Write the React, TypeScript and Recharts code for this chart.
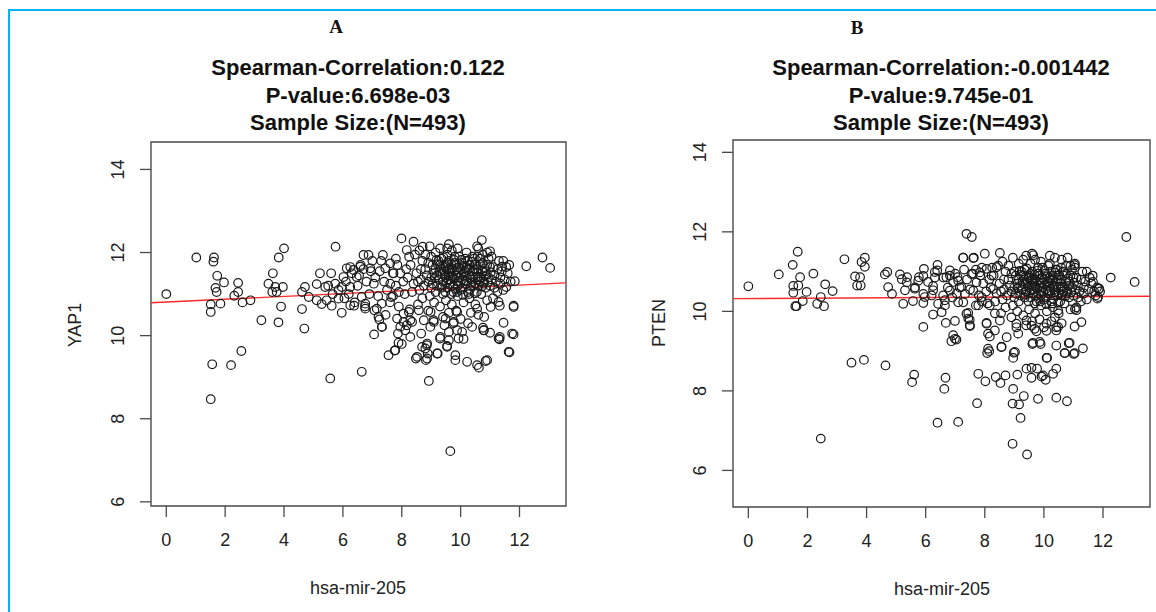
import { ScatterChart, Scatter, XAxis, YAxis, ReferenceArea, ReferenceLine } from 'recharts';

// hsa-mir-205 (x) vs YAP1 (y), panel A
const yap1Points: number[][] = [
  [0, 11.0], [1.02, 11.88], [1.62, 11.88], [1.6, 11.78], [1.73, 11.44], [1.96, 11.28], [1.67, 11.15], [1.71, 11.05],
  [1.51, 10.75], [1.51, 10.57], [1.84, 10.77], [2.44, 11.27], [2.44, 11.05], [2.31, 10.96], [2.59, 10.8], [2.86, 10.85],
  [3.23, 10.37], [2.55, 9.63], [1.56, 9.31], [2.2, 9.29], [1.51, 8.47], [3.47, 11.25], [3.62, 11.5], [4.0, 12.1],
  [3.82, 11.88], [3.7, 11.17], [3.96, 11.17], [3.75, 11.05], [3.6, 11.05], [3.9, 10.7], [3.81, 10.32], [4.61, 10.64],
  [4.69, 10.17], [4.61, 11.05], [4.71, 11.17], [4.84, 10.93], [5.11, 11.24], [5.22, 11.5], [5.11, 10.85], [5.4, 11.17],
  [5.28, 10.76], [5.6, 11.5], [5.75, 12.14], [5.62, 10.72], [5.74, 11.25], [5.85, 10.89], [5.96, 10.55], [5.96, 11.17],
  [6.02, 11.41], [6.13, 11.62], [6.25, 11.17], [6.25, 10.73], [6.38, 10.72], [6.36, 11.58], [6.47, 11.41], [6.59, 11.66],
  [6.64, 10.93], [6.7, 11.94], [6.87, 11.94], [6.76, 10.77], [6.76, 10.65], [6.93, 11.62], [7.05, 11.25], [7.07, 10.61],
  [7.21, 10.45], [7.06, 10.03], [7.32, 10.21], [7.24, 10.39], [7.36, 11.94], [7.44, 11.62], [7.61, 11.74], [7.32, 10.77],
  [7.61, 11.25], [7.72, 11.5], [7.64, 10.93], [7.99, 12.34], [8.17, 12.06], [8.4, 12.26], [8.71, 12.14], [5.57, 8.97],
  [6.64, 9.13], [8.92, 8.91], [9.65, 7.22], [10.62, 9.23], [10.85, 9.39], [12.23, 11.67], [12.78, 11.88], [13.04, 11.63],
  [11.84, 11.31], [11.55, 11.17], [11.8, 10.72], [11.33, 10.72], [11.66, 9.6], [11.8, 10.03], [11.46, 10.31], [11.32, 9.91],
  [11.33, 9.97], [11.0, 10.07], [10.76, 10.19], [10.78, 10.13], [10.22, 9.37], [9.82, 9.53], [9.82, 9.41], [9.93, 9.93],
  [10.1, 9.92], [9.88, 10.13], [9.6, 10.09], [9.54, 9.75], [9.6, 9.89], [9.22, 9.57], [8.97, 10.21], [9.08, 10.37],
  [9.3, 9.93], [8.48, 9.45], [8.66, 10.05], [8.8, 9.69], [8.82, 9.41], [8.85, 9.77], [8.88, 9.57], [7.55, 9.53],
  [7.76, 9.64], [7.89, 9.83], [8.0, 9.8], [7.87, 10.05], [7.95, 10.21], [8.06, 10.33], [8.17, 10.25], [8.27, 10.63],
  [8.06, 10.53], [8.29, 10.37], [10.72, 12.3], [10.56, 12.15], [11.0, 12.03], [9.6, 12.2], [9.54, 12.1], [11.41, 11.66],
  [7.33, 10.21], [7.78, 9.65], [8.12, 10.13], [8.29, 9.97], [8.35, 10.33], [7.84, 10.41], [8.52, 9.49], [8.69, 9.73],
  [8.86, 9.81], [8.86, 9.45], [9.2, 9.57], [9.31, 9.97], [9.54, 9.73], [10.56, 9.29], [10.9, 9.41], [11.29, 9.93],
  [11.75, 10.05], [11.63, 9.61], [10.79, 10.13], [10.39, 10.21], [10.05, 10.09], [9.77, 10.33], [9.49, 10.41], [9.09, 10.33],
  [8.75, 10.37], [8.58, 10.61], [8.24, 10.57], [8.98, 10.57], [9.88, 10.57], [10.56, 10.65], [11.02, 10.69], [11.29, 10.81],
  [11.8, 10.69],
  [6.1, 11.3], [6.3, 11.5], [6.5, 11.2], [6.7, 11.6], [6.9, 11.0], [7.1, 11.4], [7.3, 11.8], [7.5, 11.1],
  [7.7, 11.5], [6.2, 11.0], [6.4, 10.8], [6.6, 11.7], [6.8, 11.3], [7.0, 11.8], [7.2, 10.95], [7.4, 11.3],
  [7.6, 10.8], [7.8, 11.85], [6.05, 10.9], [6.75, 10.7], [7.15, 10.65], [7.45, 10.5], [7.9, 10.7], [7.25, 11.55],
  [6.95, 11.55], [6.55, 11.45], [6.25, 11.65], [5.85, 11.1], [5.65, 11.0], [5.5, 11.2], [5.45, 10.85],
  [9.1, 11.5], [9.3, 11.7], [9.5, 11.4], [9.7, 11.6], [9.9, 11.3], [10.1, 11.5], [10.3, 11.7], [10.5, 11.4],
  [9.2, 11.2], [9.4, 11.0], [9.6, 11.8], [9.8, 11.9], [10.0, 11.1], [10.2, 11.3], [10.4, 11.9], [10.6, 11.6],
  [10.8, 11.3], [9.0, 11.9], [9.25, 11.35], [9.45, 11.55], [9.65, 11.25], [9.85, 11.45], [10.05, 11.75], [10.25, 11.05],
  [10.45, 11.2], [10.65, 11.85], [10.85, 11.55], [11.0, 11.2], [9.15, 11.05], [9.35, 11.85], [9.55, 11.15], [9.75, 11.05],
  [9.95, 11.65], [10.15, 11.85], [10.35, 11.35], [10.55, 11.05], [10.75, 11.75], [10.95, 11.4], [11.1, 11.65], [11.2, 11.3],
  [8.8, 11.6], [8.9, 11.3], [8.7, 11.8], [8.6, 11.1], [8.5, 11.5], [8.4, 11.25], [8.3, 11.7], [8.2, 11.4],
  [8.1, 11.0], [8.95, 10.95], [9.05, 11.7], [9.55, 11.95], [9.7, 12.05], [9.9, 12.1], [10.2, 12.0], [10.6, 12.1],
  [10.9, 12.0], [11.05, 11.9], [11.3, 11.8], [11.4, 11.55], [11.5, 11.35], [11.45, 11.1], [11.25, 11.05], [11.1, 10.9],
  [10.9, 10.85], [10.7, 11.0], [10.5, 10.75], [10.3, 10.9], [10.1, 10.8], [9.9, 10.95], [9.7, 10.75], [9.5, 10.85],
  [9.3, 10.7], [9.1, 10.8], [8.9, 10.6], [8.7, 10.9], [8.55, 10.75], [9.6, 10.55], [9.85, 10.6], [10.0, 10.4],
  [9.4, 10.45], [9.75, 10.3], [9.45, 10.25], [10.35, 10.55], [10.6, 10.5], [10.8, 10.45], [10.25, 10.3], [9.8, 11.75],
  [9.6, 11.45], [10.0, 11.6], [10.4, 11.55], [10.7, 11.4], [9.2, 11.45], [9.4, 11.3], [9.35, 11.6], [9.65, 11.35],
  [9.9, 11.2], [10.15, 11.25], [10.5, 11.25], [10.9, 11.7], [11.15, 11.45], [11.35, 11.25], [11.6, 11.5], [11.65, 11.7],
  [11.55, 11.65], [11.7, 11.3], [8.45, 11.95], [8.6, 12.05], [8.8, 11.95], [8.25, 11.9], [8.15, 11.6], [8.05, 11.3],
  [7.95, 11.5], [7.85, 11.7], [7.8, 11.2], [7.7, 10.95], [7.9, 11.05], [8.35, 11.05], [8.65, 11.35], [9.0, 11.4],
  [9.5, 11.65], [10.3, 11.45], [10.6, 11.2], [10.2, 11.65], [9.95, 11.9], [10.45, 11.85], [10.75, 11.95], [9.15, 12.0],
  [9.3, 12.1], [8.95, 12.15], [10.05, 11.35], [9.8, 11.55],
  [9.05, 11.25], [9.15, 11.6], [9.25, 11.8], [9.35, 11.15], [9.45, 11.45], [9.55, 11.75], [9.65, 11.5], [9.75, 11.2],
  [9.85, 11.7], [9.95, 11.4], [10.05, 11.15], [10.15, 11.55], [10.25, 11.8], [10.35, 11.2], [10.45, 11.6], [10.55, 11.5],
  [10.65, 11.3], [10.75, 11.55], [10.85, 11.15], [10.95, 11.85], [9.12, 11.38], [9.22, 11.72], [9.32, 11.48], [9.42, 11.88],
  [9.52, 11.28], [9.62, 11.62], [9.72, 11.42], [9.82, 11.12], [9.92, 11.52], [10.02, 11.82], [10.12, 11.32], [10.22, 11.58],
  [10.32, 11.12], [10.42, 11.42], [10.52, 11.72], [10.62, 11.42], [10.72, 11.18], [10.82, 11.62], [10.92, 11.28], [11.02, 11.52],
  [9.48, 11.05], [9.68, 11.0], [9.88, 11.05], [10.08, 10.98], [10.28, 11.0], [10.48, 11.02], [9.38, 11.22], [9.58, 11.33],
  [9.78, 11.37], [9.98, 11.27], [10.18, 11.42], [10.38, 11.28], [10.58, 11.35], [10.78, 11.25], [9.28, 11.55], [9.48, 11.7],
  [9.68, 11.72], [9.88, 11.6], [10.08, 11.68], [10.28, 11.6], [10.48, 11.7], [10.68, 11.7], [9.18, 11.82], [9.58, 11.58],
  [9.78, 11.82], [10.38, 11.78], [10.58, 11.9], [8.85, 11.45], [8.75, 11.2], [8.65, 11.6], [8.55, 11.3], [11.15, 11.15],
  [11.25, 11.6], [11.35, 11.4], [11.45, 11.8], [11.05, 11.35], [8.9, 11.75], [9.0, 11.15], [10.85, 11.45], [11.0, 11.65],
];

// hsa-mir-205 (x) vs PTEN (y), panel B
const ptenPoints: number[][] = [
  [0, 10.63], [1.03, 10.93], [1.67, 11.5], [1.5, 11.17], [1.75, 10.86], [1.52, 10.64], [1.69, 10.65], [1.52, 10.47],
  [1.97, 10.49], [1.84, 10.26], [1.59, 10.13], [1.63, 10.13], [2.2, 10.95], [2.33, 10.19], [2.56, 10.13], [2.45, 10.36],
  [2.6, 10.68], [2.85, 10.51], [3.25, 11.31], [3.61, 10.88], [3.68, 10.65], [3.8, 10.65], [3.83, 11.24], [3.94, 11.35],
  [3.94, 11.12], [3.78, 10.86], [4.62, 10.93], [4.7, 10.99], [4.73, 10.61], [4.86, 10.44], [5.13, 10.93], [5.37, 10.86],
  [5.3, 10.53], [5.24, 10.19], [5.57, 10.26], [5.63, 10.57], [5.77, 10.86], [5.94, 11.07], [5.92, 10.44], [5.92, 10.21],
  [6.08, 10.74], [6.25, 10.53], [6.31, 10.99], [6.4, 11.17], [6.42, 10.19], [6.25, 9.92], [6.54, 9.98], [5.92, 9.61],
  [6.65, 10.28], [6.7, 10.86], [6.82, 11.03], [6.93, 10.74], [7.08, 10.86], [6.99, 9.76], [6.68, 9.71], [6.93, 9.4],
  [6.87, 9.25], [7.04, 9.29], [7.1, 10.23], [7.21, 10.61], [7.27, 11.35], [7.61, 11.34], [7.38, 11.95], [7.56, 11.87],
  [7.44, 9.96], [7.49, 9.79], [7.49, 9.65], [8.0, 11.45], [8.51, 11.47], [8.06, 9.71], [8.11, 9.44], [8.17, 9.37],
  [8.11, 9.06], [8.15, 9.0], [8.56, 9.1], [9.02, 8.98], [8.96, 8.83], [9.07, 9.69], [9.13, 9.44], [9.63, 9.21],
  [9.86, 9.23], [10.09, 8.83], [10.42, 9.14], [10.71, 8.95], [10.87, 9.21], [11.04, 8.95], [11.32, 9.07], [11.04, 9.62],
  [11.27, 9.73], [11.1, 10.03], [11.04, 11.16], [12.26, 10.85], [12.79, 11.87], [13.07, 10.74], [11.87, 10.57], [11.83, 10.36],
  [10.37, 11.35], [10.48, 9.61], [10.42, 9.52], [3.49, 8.71], [3.91, 8.78], [4.64, 8.64], [5.61, 8.41], [6.67, 8.33],
  [7.78, 8.43], [8.37, 8.35], [8.7, 8.39], [9.1, 8.41], [9.41, 8.56], [9.58, 8.58], [9.77, 8.56], [9.97, 8.39],
  [10.31, 8.43], [10.42, 8.56], [2.45, 6.8], [6.4, 7.2], [7.1, 7.22], [8.94, 6.67], [9.43, 6.4], [7.74, 7.69],
  [8.94, 7.68], [9.16, 7.66], [9.21, 7.32], [9.8, 7.8], [10.42, 7.83], [10.78, 7.74], [9.32, 7.87], [8.96, 8.05],
  [5.54, 8.22], [6.63, 8.05], [8.02, 8.24], [8.53, 8.2], [9.58, 8.33], [9.92, 8.36], [10.06, 8.28], [8.08, 8.95],
  [8.57, 9.11], [8.98, 8.96], [10.11, 8.83], [9.61, 9.18], [9.89, 9.18], [10.7, 8.95], [11.01, 8.93], [10.84, 9.2],
  [6.99, 9.31], [7.38, 9.94], [7.44, 9.82], [7.5, 9.63], [8.06, 9.69], [8.51, 9.77], [8.34, 9.52], [8.74, 9.35],
  [9.07, 9.6], [9.41, 9.77], [9.58, 9.64], [10.09, 9.69], [9.69, 9.56], [10.37, 9.85], [10.48, 10.02], [11.05, 10.06],
  [10.09, 9.51], [10.42, 9.6], [8.34, 9.95], [8.17, 10.15],
  [5.19, 10.81], [5.36, 10.73], [5.64, 10.6], [5.75, 10.77], [5.92, 10.89], [5.97, 10.36], [6.25, 10.64], [6.31, 10.85],
  [6.39, 11.03], [6.2, 10.4], [6.59, 10.4], [6.65, 10.15], [6.82, 10.9], [7.1, 10.77], [6.82, 10.52], [7.33, 10.44],
  [7.27, 10.23], [7.55, 10.94], [7.72, 10.73], [7.83, 10.98], [7.61, 10.52], [7.89, 10.36], [7.78, 10.15], [8.06, 11.07],
  [8.23, 10.9], [8.4, 11.11], [8.28, 10.56], [7.27, 11.35], [7.63, 11.35], [9.64, 11.41], [11.05, 11.2], [11.66, 10.74],
  [11.86, 10.57], [11.81, 10.32],
  [7.0, 10.95], [7.15, 10.6], [7.4, 10.8], [7.6, 10.95], [7.5, 10.55], [6.75, 10.6], [6.6, 10.85], [7.3, 11.05],
  [7.05, 10.45], [7.7, 11.05], [7.9, 11.1], [6.9, 10.35],
  [9.1, 10.7], [9.3, 10.9], [9.5, 10.6], [9.7, 10.8], [9.9, 10.5], [10.1, 10.7], [10.3, 10.9], [10.5, 10.6],
  [9.2, 10.4], [9.4, 10.5], [9.6, 11.0], [9.8, 11.1], [10.0, 10.3], [10.2, 10.5], [10.4, 11.05], [10.6, 10.8],
  [10.8, 10.5], [9.0, 11.0], [9.25, 10.55], [9.45, 10.75], [9.65, 10.45], [9.85, 10.65], [10.05, 10.95], [10.25, 10.25],
  [10.45, 10.4], [10.65, 11.0], [10.85, 10.75], [11.0, 10.4], [9.15, 10.25], [9.35, 11.05], [9.55, 10.35], [9.75, 10.25],
  [9.95, 10.85], [10.15, 11.15], [10.35, 10.55], [10.55, 10.25], [10.75, 10.95], [10.95, 10.6], [11.1, 10.85], [11.2, 10.5],
  [8.8, 10.8], [8.9, 10.5], [8.7, 11.0], [8.6, 10.3], [8.5, 10.7], [8.4, 10.45], [8.3, 10.9], [8.2, 10.6],
  [8.1, 10.2], [8.95, 10.15], [9.05, 10.9], [9.55, 11.2], [9.7, 11.3], [9.9, 11.25], [10.2, 11.2], [10.6, 11.3],
  [10.9, 11.15], [11.05, 11.1], [11.3, 11.0], [11.4, 10.75], [11.5, 10.55], [11.45, 10.3], [11.25, 10.25], [11.1, 10.1],
  [10.9, 10.05], [10.7, 10.2], [10.5, 9.95], [10.3, 10.1], [10.1, 10.0], [9.9, 10.15], [9.7, 9.95], [9.5, 10.05],
  [9.3, 9.9], [9.1, 10.0], [8.9, 9.85], [8.7, 10.1], [8.55, 9.95], [9.6, 9.75], [9.85, 9.8], [10.0, 9.6],
  [9.4, 9.65], [9.75, 9.5], [10.25, 9.75], [10.6, 9.7], [9.8, 10.95], [9.6, 10.65], [10.0, 10.8], [10.4, 10.75],
  [10.7, 10.6], [9.2, 10.65], [9.4, 10.5], [9.35, 10.8], [9.65, 10.55], [9.9, 10.4], [10.15, 10.45], [10.5, 10.45],
  [10.9, 10.9], [11.15, 10.65], [11.35, 10.45], [11.6, 10.7], [11.65, 10.9], [11.55, 10.85], [11.7, 10.5], [8.45, 11.15],
  [8.6, 11.25], [8.8, 11.15], [8.25, 11.1], [8.15, 10.8], [8.05, 10.5], [7.95, 10.7], [7.85, 10.9], [7.8, 10.4],
  [7.7, 10.15], [7.9, 10.25], [8.35, 10.25], [8.65, 10.55], [9.0, 10.6], [9.5, 10.85], [10.3, 10.65], [10.6, 10.4],
  [10.2, 10.85], [9.95, 11.1], [10.45, 11.05], [10.75, 11.15], [9.15, 11.2], [9.3, 11.3], [8.95, 11.35], [10.05, 10.55],
  [9.8, 10.75], [11.8, 10.6], [11.75, 10.4], [11.9, 10.5], [10.8, 11.35], [10.2, 11.4], [9.4, 11.4], [9.6, 11.45],
  [9.05, 10.45], [9.15, 10.8], [9.25, 11.0], [9.35, 10.35], [9.45, 10.65], [9.55, 10.95], [9.65, 10.7], [9.75, 10.4],
  [9.85, 10.9], [9.95, 10.6], [10.05, 10.35], [10.15, 10.75], [10.25, 11.0], [10.35, 10.4], [10.45, 10.8], [10.55, 10.7],
  [10.65, 10.5], [10.75, 10.75], [10.85, 10.35], [10.95, 11.05], [9.12, 10.58], [9.22, 10.92], [9.32, 10.68], [9.42, 11.08],
  [9.52, 10.48], [9.62, 10.82], [9.72, 10.62], [9.82, 10.32], [9.92, 10.72], [10.02, 11.02], [10.12, 10.52], [10.22, 10.78],
  [10.32, 10.32], [10.42, 10.62], [10.52, 10.92], [10.62, 10.62], [10.72, 10.38], [10.82, 10.82], [10.92, 10.48], [11.02, 10.72],
  [9.48, 10.25], [9.68, 10.2], [9.88, 10.25], [10.08, 10.18], [10.28, 10.2], [10.48, 10.22], [9.38, 10.42], [9.58, 10.53],
  [9.78, 10.57], [9.98, 10.47], [10.18, 10.62], [10.38, 10.48], [10.58, 10.55], [10.78, 10.45], [9.28, 10.75], [9.48, 10.9],
  [9.68, 10.92], [9.88, 10.8], [10.08, 10.88], [10.28, 10.8], [10.48, 10.9], [10.68, 10.9], [9.18, 11.02], [9.58, 10.78],
  [9.78, 11.02], [10.38, 10.98], [10.58, 11.1], [8.85, 10.65], [8.75, 10.4], [8.65, 10.8], [8.55, 10.5], [11.15, 10.35],
  [11.25, 10.8], [11.35, 10.6], [11.45, 11.0], [11.05, 10.55], [8.9, 10.95], [9.0, 10.35], [10.85, 10.65], [11.0, 10.85],
];

// fitted lines (end points at the plot edges)
const fitA = [[-0.52, 10.79], [13.58, 11.27]];
const fitB = [[-0.52, 10.32], [13.59, 10.38]];

const xTicks = [0, 2, 4, 6, 8, 10, 12];
const yTicks = [6, 8, 10, 12, 14];

const titlesA = ['Spearman-Correlation:0.122', 'P-value:6.698e-03', 'Sample Size:(N=493)'];
const titlesB = ['Spearman-Correlation:-0.001442', 'P-value:9.745e-01', 'Sample Size:(N=493)'];

const FONT = '"Liberation Sans", Arial, Helvetica, sans-serif';
const AXIS = '#4a4a4a';

const toXY = (pts: number[][]) => pts.map(([x, y]) => ({ x, y }));

const Ring = (p: any) => (
  <circle cx={p.cx} cy={p.cy} r={4.3} fill="none" stroke="#1a1a1a" strokeWidth={1.2} />
);

const XTick = ({ x, y, payload }: any) => (
  <text x={x} y={y + 21} textAnchor="middle" dominantBaseline="central" fontFamily={FONT} fontSize={18} fill="#222">
    {payload.value}
  </text>
);

const YTick = ({ x, y, payload }: any) => {
  const cx = x - 20;
  return (
    <text x={cx} y={y} transform={`rotate(-90 ${cx} ${y})`} textAnchor="middle" dominantBaseline="central"
      fontFamily={FONT} fontSize={18} fill="#222">
      {payload.value}
    </text>
  );
};

function Panel({ pts, fit, xDom, yDom, yAxisWidth, right, xAxisHeight, left, top, height }: any) {
  return (
    <div style={{ position: 'absolute', left, top }}>
      <ScatterChart width={530} height={height} margin={{ top: 12, right, bottom: 0, left: 0 }}>
        <XAxis type="number" dataKey="x" domain={xDom} ticks={xTicks} allowDataOverflow axisLine={false}
          tickLine={{ stroke: AXIS, strokeWidth: 1.3 }} tickSize={11} height={xAxisHeight} tick={<XTick />} />
        <YAxis type="number" dataKey="y" domain={yDom} ticks={yTicks} allowDataOverflow axisLine={false}
          tickLine={{ stroke: AXIS, strokeWidth: 1.3 }} tickSize={11} width={yAxisWidth} tick={<YTick />} />
        <ReferenceArea x1={xDom[0]} x2={xDom[1]} y1={yDom[0]} y2={yDom[1]} fill="none" stroke={AXIS}
          strokeWidth={1.4} fillOpacity={0} strokeOpacity={1} ifOverflow="visible" />
        <Scatter data={toXY(pts)} shape={Ring} isAnimationActive={false} />
        <ReferenceLine segment={[{ x: fit[0][0], y: fit[0][1] }, { x: fit[1][0], y: fit[1][1] }]}
          stroke="#ff2b2b" strokeWidth={1.4} ifOverflow="visible" />
      </ScatterChart>
    </div>
  );
}

const center = (x: number, y: number, extra: any = {}) => ({
  position: 'absolute' as const, left: x, top: y, transform: 'translate(-50%, -50%)', whiteSpace: 'nowrap' as const, ...extra,
});

export default function App() {
  const titleStyle = { fontFamily: FONT, fontWeight: 700, fontSize: 22, color: '#111' };
  const labelStyle = { fontFamily: FONT, fontSize: 18, color: '#222' };
  const letterStyle = { fontFamily: '"Liberation Serif", "Times New Roman", serif', fontWeight: 700, fontSize: 19, color: '#111' };
  return (
    <div style={{ position: 'absolute', left: 0, top: 0, width: 1156, height: 612, background: '#fff', overflow: 'hidden' }}>
      <div style={{ position: 'absolute', left: 8, top: 9, width: 1148, height: 2, background: '#00b4ef' }} />
      <div style={{ position: 'absolute', left: 8, top: 9, width: 2, height: 603, background: '#00b4ef' }} />

      <div style={center(336, 27, letterStyle)}>A</div>
      <div style={center(857, 28, letterStyle)}>B</div>
      {titlesA.map((t, i) => (
        <div key={t} style={center(358, 68 + i * 27.5, titleStyle)}>{t}</div>
      ))}
      {titlesB.map((t, i) => (
        <div key={t} style={center(941, 68 + i * 27.5, titleStyle)}>{t}</div>
      ))}

      <Panel pts={yap1Points} fit={fitA} xDom={[-0.52, 13.58]} yDom={[5.9, 14.66]} yAxisWidth={91} right={24}
        xAxisHeight={106} left={60} top={130} height={482} />
      <Panel pts={ptenPoints} fit={fitB} xDom={[-0.52, 13.59]} yDom={[5.08, 14.31]} yAxisWidth={93} right={20}
        xAxisHeight={105} left={640} top={128} height={484} />

      <div style={center(358, 588, labelStyle)}>hsa-mir-205</div>
      <div style={center(942, 589, labelStyle)}>hsa-mir-205</div>
      <div style={center(75, 325, { ...labelStyle, transform: 'translate(-50%, -50%) rotate(-90deg)' })}>YAP1</div>
      <div style={center(659, 323, { ...labelStyle, transform: 'translate(-50%, -50%) rotate(-90deg)' })}>PTEN</div>
    </div>
  );
}
